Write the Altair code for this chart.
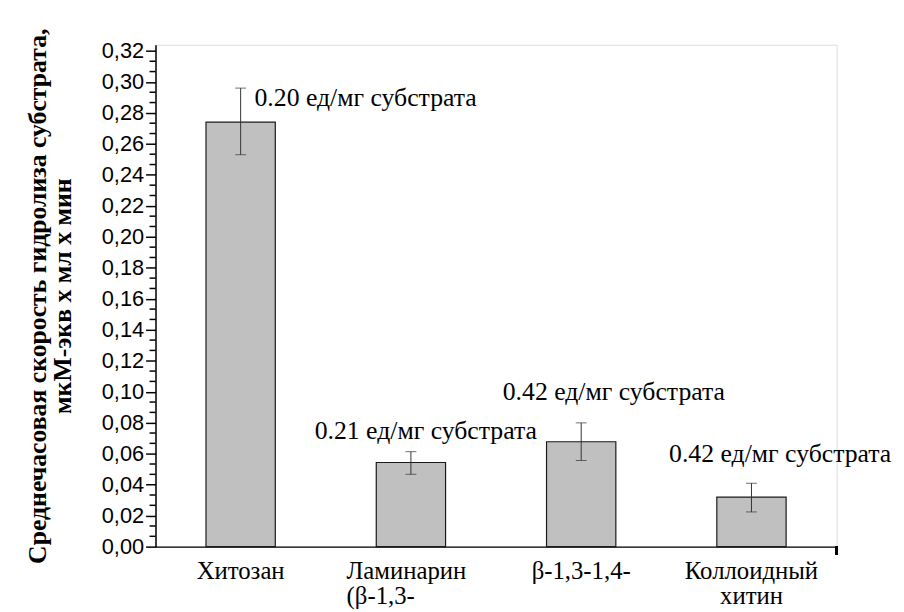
import altair as alt
import pandas as pd

categories = ["Хитозан", "Ламинарин\n(β-1,3-", "β-1,3-1,4-", "Коллоидный\nхитин"]
rate = [0.274, 0.0543, 0.0677, 0.0320]
err_low = [0.253, 0.0467, 0.0556, 0.0224]
err_high = [0.296, 0.0613, 0.0799, 0.0409]
notes = ["0.20 ед/мг субстрата", "0.21 ед/мг субстрата", "0.42 ед/мг субстрата", "0.42 ед/мг субстрата"]
major_ticks = [round(i * 0.02, 2) for i in range(17)]
minor_ticks = [i * 0.02 / 3 for i in range(49) if i % 3 != 0]

df = pd.DataFrame({"cat": categories, "rate": rate, "lo": err_low, "hi": err_high, "note": notes})
minor_df = pd.DataFrame({"v": minor_ticks})

W, H = 688, 507
SERIF = "Liberation Serif"
SANS = "Liberation Sans"

xscale = alt.Scale(domain=categories, paddingInner=0.593, paddingOuter=0.2965)
yscale = alt.Scale(domain=[0, 0.324], nice=False)

is_lam = "indexof(datum.value, 'Ламинарин') >= 0"
xaxis = alt.Axis(title=None, labelAngle=0, ticks=False, domainColor="black", domainWidth=1.5,
                 labelFont=SERIF, labelFontSize=25, labelColor="black", labelPadding=12,
                 labelBaseline="top", labelLineHeight=25,
                 labelAlign=alt.condition(is_lam, alt.value("left"), alt.value("center")),
                 labelOffset=alt.condition(is_lam, alt.value(-65), alt.value(0)),
                 labelExpr="split(datum.label, '\\n')")
yaxis = alt.Axis(values=major_ticks, title=["Среднечасовая скорость гидролиза субстрата,", "мкМ-экв х мл х мин"],
                 titleFont=SERIF, titleFontSize=26, titleFontWeight="bold", titleColor="black",
                 titleX=-119, titleBaseline="middle", titleLineHeight=25,
                 labelFont=SANS, labelFontSize=22, labelColor="black", labelPadding=2,
                 labelOverlap=False, labelBaseline="middle",
                 labelExpr="replace(format(datum.value, '.2f'), '.', ',')",
                 tickSize=10, tickColor="black", tickWidth=1.5,
                 domainColor="black", domainWidth=1.5, grid=False)


def X():
    return alt.X("cat:N", scale=xscale, sort=categories, axis=xaxis)


def Y(field):
    return alt.Y(field, scale=yscale, axis=yaxis)


bars = alt.Chart(df).mark_bar(color="#c0c0c0", stroke="#1a1a1a", strokeWidth=1.2).encode(x=X(), y=Y("rate:Q"))

rule = alt.Chart(df).mark_rule(color="#333333", strokeWidth=1).encode(x=X(), y=Y("lo:Q"), y2="hi:Q")
cap_hi = alt.Chart(df).mark_tick(color="#333333", size=11, thickness=1).encode(x=X(), y=Y("hi:Q"))
cap_lo = alt.Chart(df).mark_tick(color="#333333", size=11, thickness=1).encode(x=X(), y=Y("lo:Q"))

minor = alt.Chart(minor_df).mark_rule(color="black", strokeWidth=1.5).encode(
    y=Y("v:Q"), x=alt.value(-6), x2=alt.value(0))

end_tick = alt.Chart(minor_df).mark_rule(color="black", strokeWidth=1.5).encode(
    x=alt.value(W), y=alt.value(H), y2=alt.value(H + 8))

offsets = [(14, 18, "left"), (15, -13, "center"), (33, -23, "center"), (29, -21, "center")]
texts = []
for i, (dx, dy, al) in enumerate(offsets):
    texts.append(alt.Chart(df.iloc[[i]]).mark_text(font=SERIF, fontSize=26, color="black", align=al,
                                                    baseline="alphabetic", dx=dx, dy=dy).encode(
        x=X(), y=Y("hi:Q"), text="note:N"))

chart = alt.layer(bars, rule, cap_hi, cap_lo, minor, end_tick, *texts).properties(
    width=W, height=H,
    autosize=alt.AutoSizeParams(type="none"),
    padding={"left": 149, "top": 34, "right": 60, "bottom": 70},
).configure_view(stroke=None).configure(background="white")

chart.save("out.html", embed_options={"renderer": "svg", "actions": False})
